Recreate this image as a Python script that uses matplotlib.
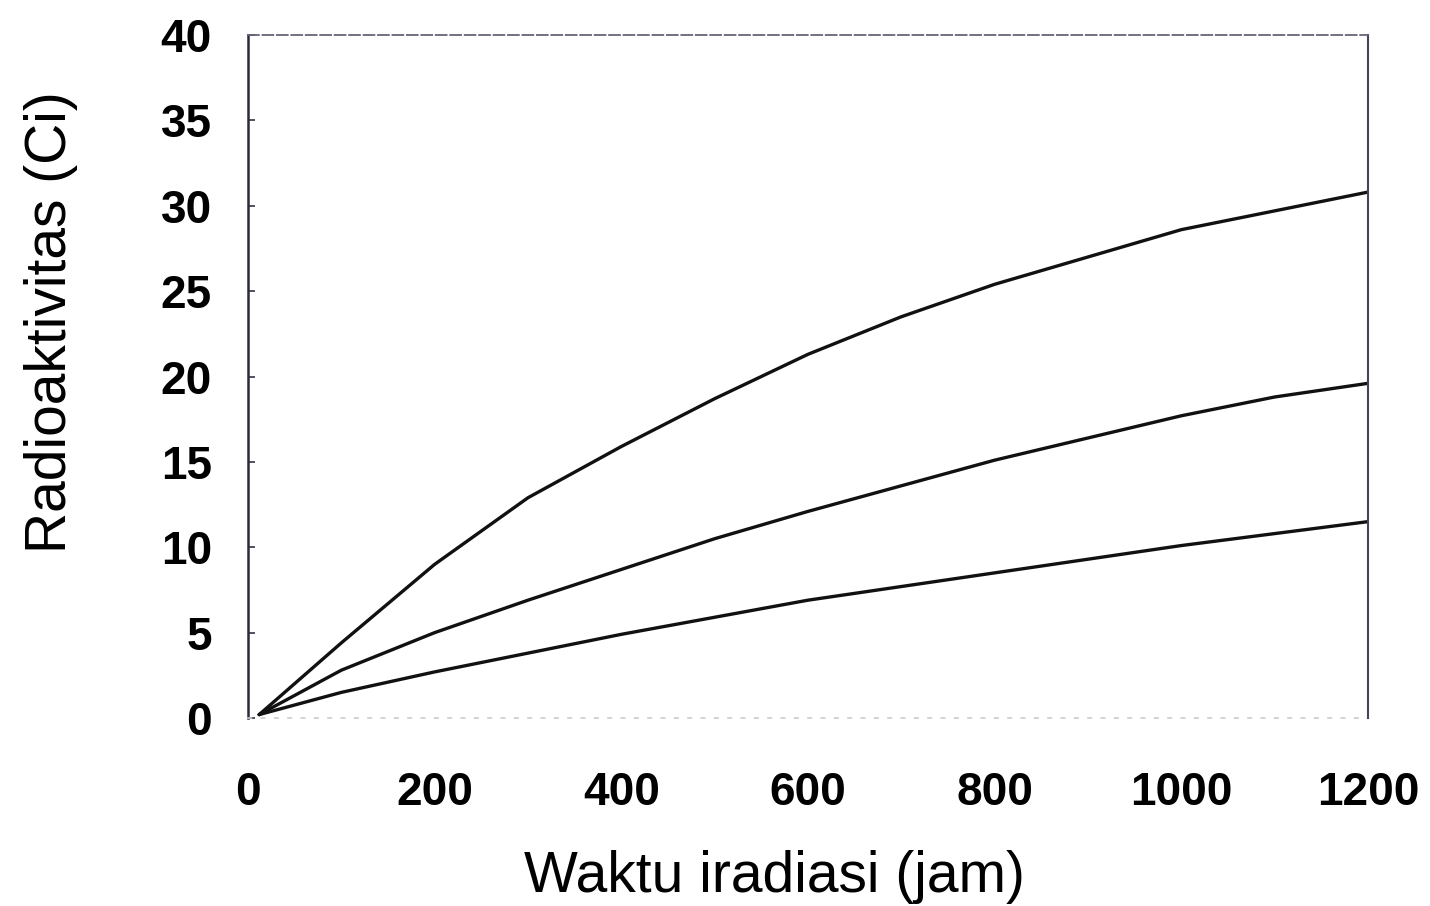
import matplotlib.pyplot as plt
import numpy as np

# irradiation time (jam) and activity (Ci) for the three curves
waktu = [12, 100, 200, 300, 400, 500, 600, 700, 800, 900, 1000, 1100, 1200]
atas = [0.2, 4.4, 9.0, 12.9, 15.9, 18.7, 21.3, 23.5, 25.4, 27.0, 28.6, 29.7, 30.8]
tengah = [0.2, 2.8, 5.0, 6.9, 8.7, 10.5, 12.1, 13.6, 15.1, 16.4, 17.7, 18.8, 19.6]
bawah = [0.2, 1.5, 2.7, 3.8, 4.9, 5.9, 6.9, 7.7, 8.5, 9.3, 10.1, 10.8, 11.5]

xticks = [0, 200, 400, 600, 800, 1000, 1200]
yticks = [0, 5, 10, 15, 20, 25, 30, 35, 40]

plt.rcParams['font.family'] = ['Liberation Sans', 'DejaVu Sans']

fig = plt.figure(figsize=(14.3, 9.06), dpi=100)
ax = fig.add_axes([248 / 1430, 1 - 718 / 906, 1120 / 1430, 683 / 906])

for y in (atas, tengah, bawah):
    ax.plot(waktu, y, color='#111111', linewidth=2.4, solid_capstyle='round',
            solid_joinstyle='round')

ax.set_xlim(0, 1200)
ax.set_ylim(0, 40)
ax.set_xticks(xticks)
ax.set_yticks(yticks)
ax.tick_params(axis='y', direction='in', length=5, width=1.2, color='#333344',
               pad=26, labelsize=33)
ax.tick_params(axis='x', length=0, pad=38, labelsize=33)
for lab in ax.get_xticklabels() + ax.get_yticklabels():
    lab.set_fontweight('bold')

# scanned look: solid left spine, faded top/right, almost vanished bottom
ax.spines['left'].set_color('#2a2a3a')
ax.spines['left'].set_linewidth(1.8)
ax.spines['top'].set_color('#666677')
ax.spines['top'].set_linewidth(1.3)
ax.spines['top'].set_linestyle((0, (6, 2)))
ax.spines['right'].set_color('#444455')
ax.spines['right'].set_linewidth(1.5)
ax.spines['bottom'].set_color('#cccccc')
ax.spines['bottom'].set_linewidth(1.2)
ax.spines['bottom'].set_linestyle((0, (2, 6)))

ax.set_xlabel('Waktu iradiasi (jam)', fontsize=41)
ax.set_ylabel('Radioaktivitas (Ci)', fontsize=41)
ax.xaxis.set_label_coords(0.47, -0.193)
ax.yaxis.set_label_coords(-0.152, 0.58)

fig.savefig('out.png', dpi=100)
